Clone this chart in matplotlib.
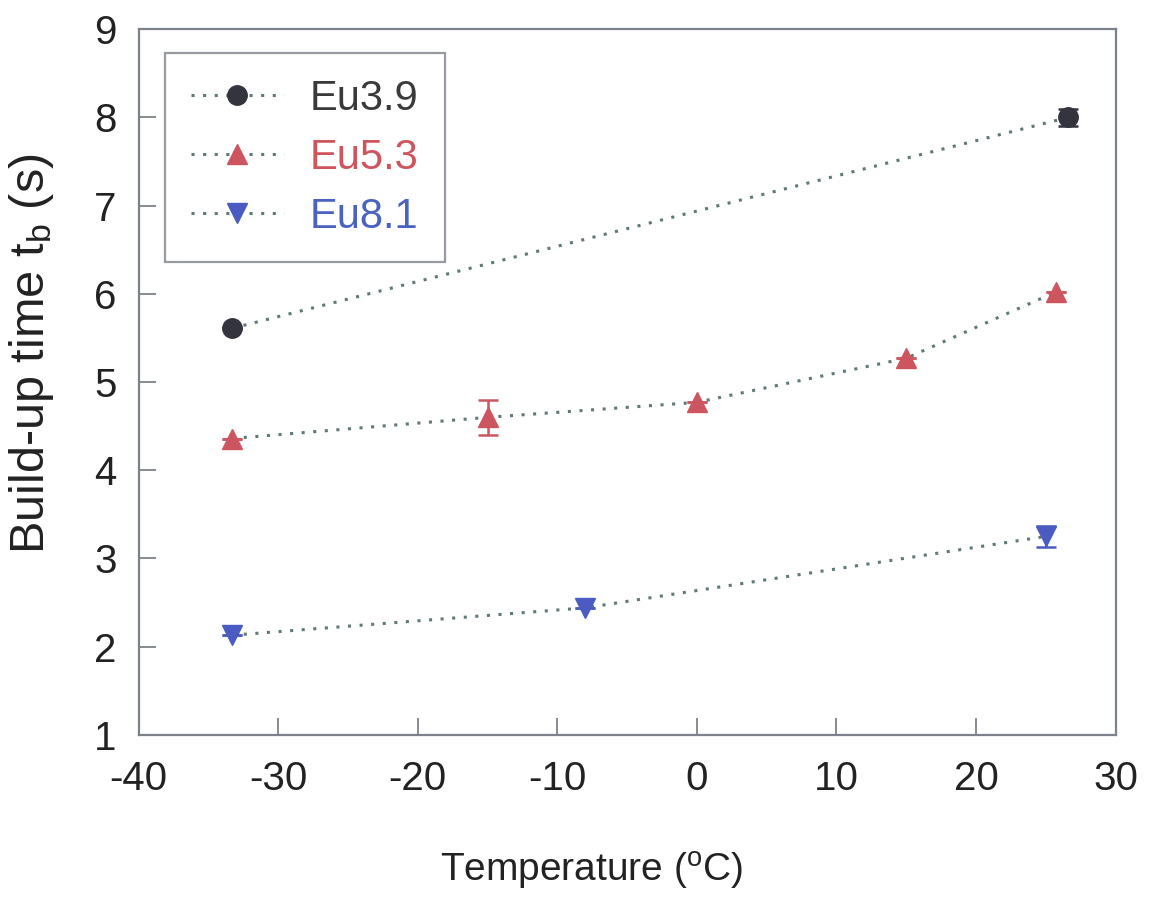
import numpy as np
import matplotlib
matplotlib.use("Agg")
import matplotlib.pyplot as plt

plt.rcParams['font.family'] = ['Liberation Sans', 'DejaVu Sans']
plt.rcParams['mathtext.default'] = 'regular'

# ── data ──
SERIES_NAMES = ["Eu3.9", "Eu5.3", "Eu8.1"]

temp_eu39 = [-33.3, 26.6]
tb_eu39   = [5.61, 8.0]
err_eu39  = [0.0, 0.1]

temp_eu53 = [-33.3, -15.0, 0.0, 15.0, 25.7]
tb_eu53   = [4.36, 4.60, 4.77, 5.27, 6.02]
err_eu53  = [0.0, 0.2, 0.0, 0.0, 0.0]

temp_eu81 = [-33.3, -8.0, 25.0]
tb_eu81   = [2.13, 2.44, 3.25]
err_eu81  = [0.0, 0.0, 0.12]

XTICKS = [-40, -30, -20, -10, 0, 10, 20, 30]
YTICKS = [1, 2, 3, 4, 5, 6, 7, 8, 9]

# ── styles ──
MARKER_COLORS = ["#34343f", "#cc5560", "#4a5cc2"]
TEXT_COLORS   = ["#3a3a3a", "#d0545c", "#4a63c0"]
MARKERS       = ["o", "^", "v"]
LINE_COLOR    = "#5f7878"
SPINE_COLOR   = "#7d828a"

fig = plt.figure(figsize=(11.56, 9.14), dpi=100)
ax = fig.add_axes([0.120, 0.196, 0.845, 0.772])

data = [(temp_eu39, tb_eu39, err_eu39),
        (temp_eu53, tb_eu53, err_eu53),
        (temp_eu81, tb_eu81, err_eu81)]

handles = []
for (x, y, e), name, mc, mk in zip(data, SERIES_NAMES, MARKER_COLORS, MARKERS):
    ax.plot(x, y, linestyle=(0, (1, 2.8)), color=LINE_COLOR, lw=2.2, zorder=2)
    ax.errorbar(x, y, yerr=e, fmt="none", ecolor=mc, elinewidth=1.8,
                capsize=7, capthick=1.8, zorder=3)
    ax.plot(x, y, linestyle="none", marker=mk, markersize=14,
            color=mc, zorder=4)
    h, = ax.plot([], [], linestyle=(0, (1, 2.8)), color=LINE_COLOR, lw=2.2,
                 marker=mk, markersize=14, markerfacecolor=mc,
                 markeredgecolor=mc, label=name)
    handles.append(h)

ax.set_xlim(-40, 30)
ax.set_ylim(1, 9)
ax.set_xticks(XTICKS)
ax.set_yticks(YTICKS)
ax.set_xticklabels([str(t) for t in XTICKS])
ax.set_yticklabels([str(t) for t in YTICKS])

ax.tick_params(direction="in", length=12, width=1.3, color=SPINE_COLOR,
               labelsize=29, labelcolor="#222222")
ax.tick_params(axis="y", pad=16)
ax.tick_params(axis="x", pad=18)

for s in ax.spines.values():
    s.set_color(SPINE_COLOR)
    s.set_linewidth(1.6)

ax.set_xlabel("Temperature ($^o$C)", fontsize=28, color="#222222")
ax.xaxis.set_label_coords(0.464, -0.163)
ax.set_ylabel("Build-up time t$_b$ (s)", fontsize=35, color="#222222")
ax.yaxis.set_label_coords(-0.085, 0.54)

leg = ax.legend(handles=handles, loc="upper left", bbox_to_anchor=(0.0266, 0.966),
                fontsize=30, frameon=True, fancybox=False, handlelength=2.25,
                handletextpad=0.62, labelspacing=0.45, borderpad=0.62,
                borderaxespad=0)
leg.get_frame().set_edgecolor(SPINE_COLOR)
leg.get_frame().set_linewidth(1.6)
for txt, c in zip(leg.get_texts(), TEXT_COLORS):
    txt.set_color(c)

plt.savefig("out.png", dpi=100)
